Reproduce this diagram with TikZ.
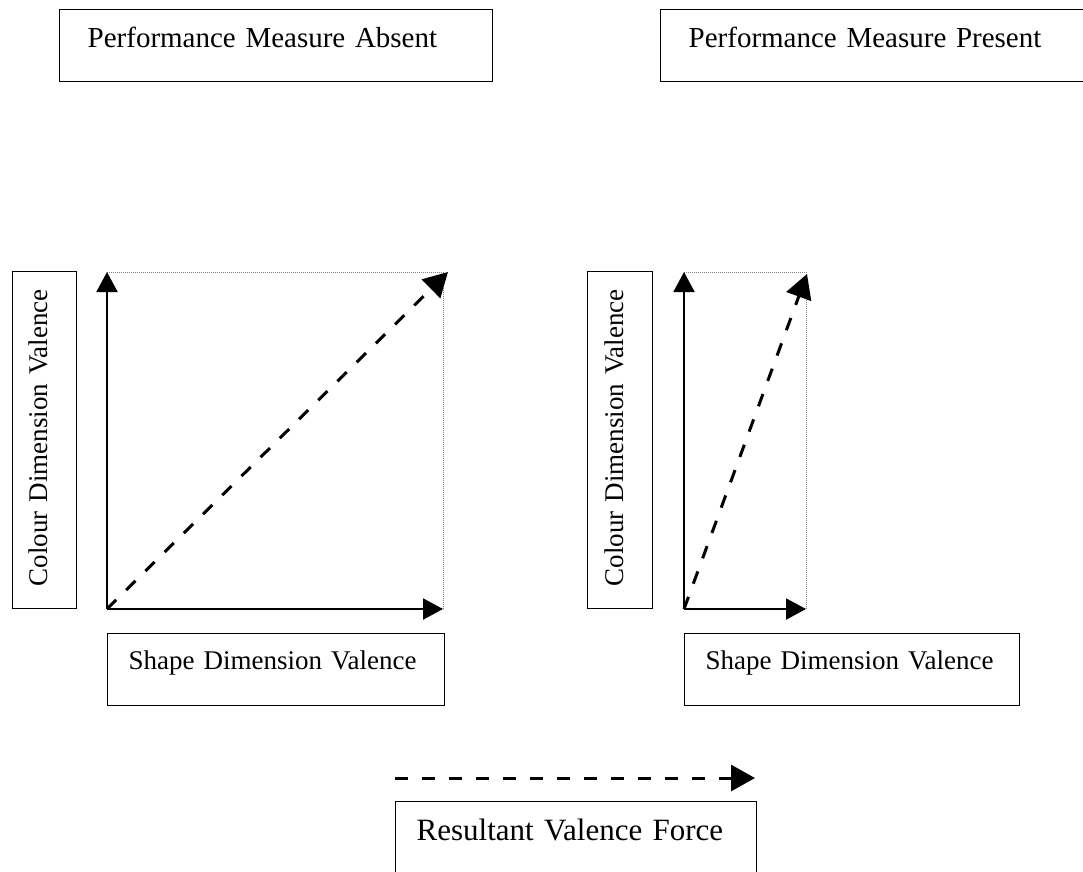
\documentclass[tikz,border=0pt]{standalone}
\usepackage{fontspec}
\setmainfont{Liberation Serif}
\usetikzlibrary{arrows.meta}

\tikzset{
  labelbox/.style={draw=black, line width=1.4pt, inner ysep=0pt, align=left, anchor=north west},
  titlefont/.style={font=\fontsize{29}{32}\selectfont},
  axisfont/.style={font=\fontsize{27}{30}\selectfont},
  legendfont/.style={font=\fontsize{31}{34}\selectfont},
  axisline/.style={line width=2pt, -{Triangle[length=20pt,width=21pt]}},
  guideline/.style={gray, line width=1pt, dash pattern=on 1pt off 1pt},
  resultline/.style={line width=3pt, dash pattern=on 13pt off 14pt, -{Triangle[length=24pt,width=26pt]}},
}

\begin{document}
\begin{tikzpicture}[x=1pt,y=-1pt]
\useasboundingbox (0,0) rectangle (1083,871);

% condition headings
\node[labelbox, titlefont, inner xsep=28pt, text width=433pt-56pt, text height=38pt, text depth=34pt]
  (absent) at (59,9) {\mbox{Performance Measure Absent}};
\node[labelbox, titlefont, inner xsep=28pt, text width=432pt-56pt, text height=38pt, text depth=34pt]
  (present) at (660,9) {\mbox{Performance Measure Present}};

% left panel: equal valences
\coordinate (o1) at (107,609);
\coordinate (y1) at (107,272);
\coordinate (x1) at (443,609);
\coordinate (c1) at (443,272);
\coordinate (t1) at (448,272);
\draw[guideline] (y1) -- (c1) -- (x1);
\draw[axisline] (o1) -- (y1);
\draw[axisline] (o1) -- (x1);
\draw[resultline] (o1) -- (t1);

\node[labelbox, axisfont, rotate=90, inner xsep=22pt, text width=337pt-44pt, text height=35pt, text depth=29pt]
  (colourA) at (12,609) {\mbox{Colour Dimension Valence}};
\node[labelbox, axisfont, inner xsep=21pt, text width=337pt-42pt, text height=36pt, text depth=36pt]
  (shapeA) at (107,633) {\mbox{Shape Dimension Valence}};

% right panel: colour dominates
\coordinate (o2) at (684,609);
\coordinate (y2) at (684,272);
\coordinate (x2) at (806,609);
\coordinate (c2) at (806,272);
\coordinate (t2) at (807,274);
\draw[guideline] (y2) -- (c2) -- (x2);
\draw[axisline] (o2) -- (y2);
\draw[axisline] (o2) -- (x2);
\draw[resultline] (o2) -- (t2);

\node[labelbox, axisfont, rotate=90, inner xsep=22pt, text width=337pt-44pt, text height=36pt, text depth=29pt]
  (colourB) at (587,609) {\mbox{Colour Dimension Valence}};
\node[labelbox, axisfont, inner xsep=21pt, text width=335pt-42pt, text height=36pt, text depth=36pt]
  (shapeB) at (684,633) {\mbox{Shape Dimension Valence}};

% legend
\coordinate (l0) at (395,778);
\coordinate (l1) at (755,778);
\draw[resultline] (l0) -- (l1);
\node[labelbox, legendfont, inner xsep=21pt, text width=361pt-42pt, text height=39pt, text depth=45pt]
  (legend) at (395,801) {\mbox{Resultant Valence Force}};
\end{tikzpicture}
\end{document}
